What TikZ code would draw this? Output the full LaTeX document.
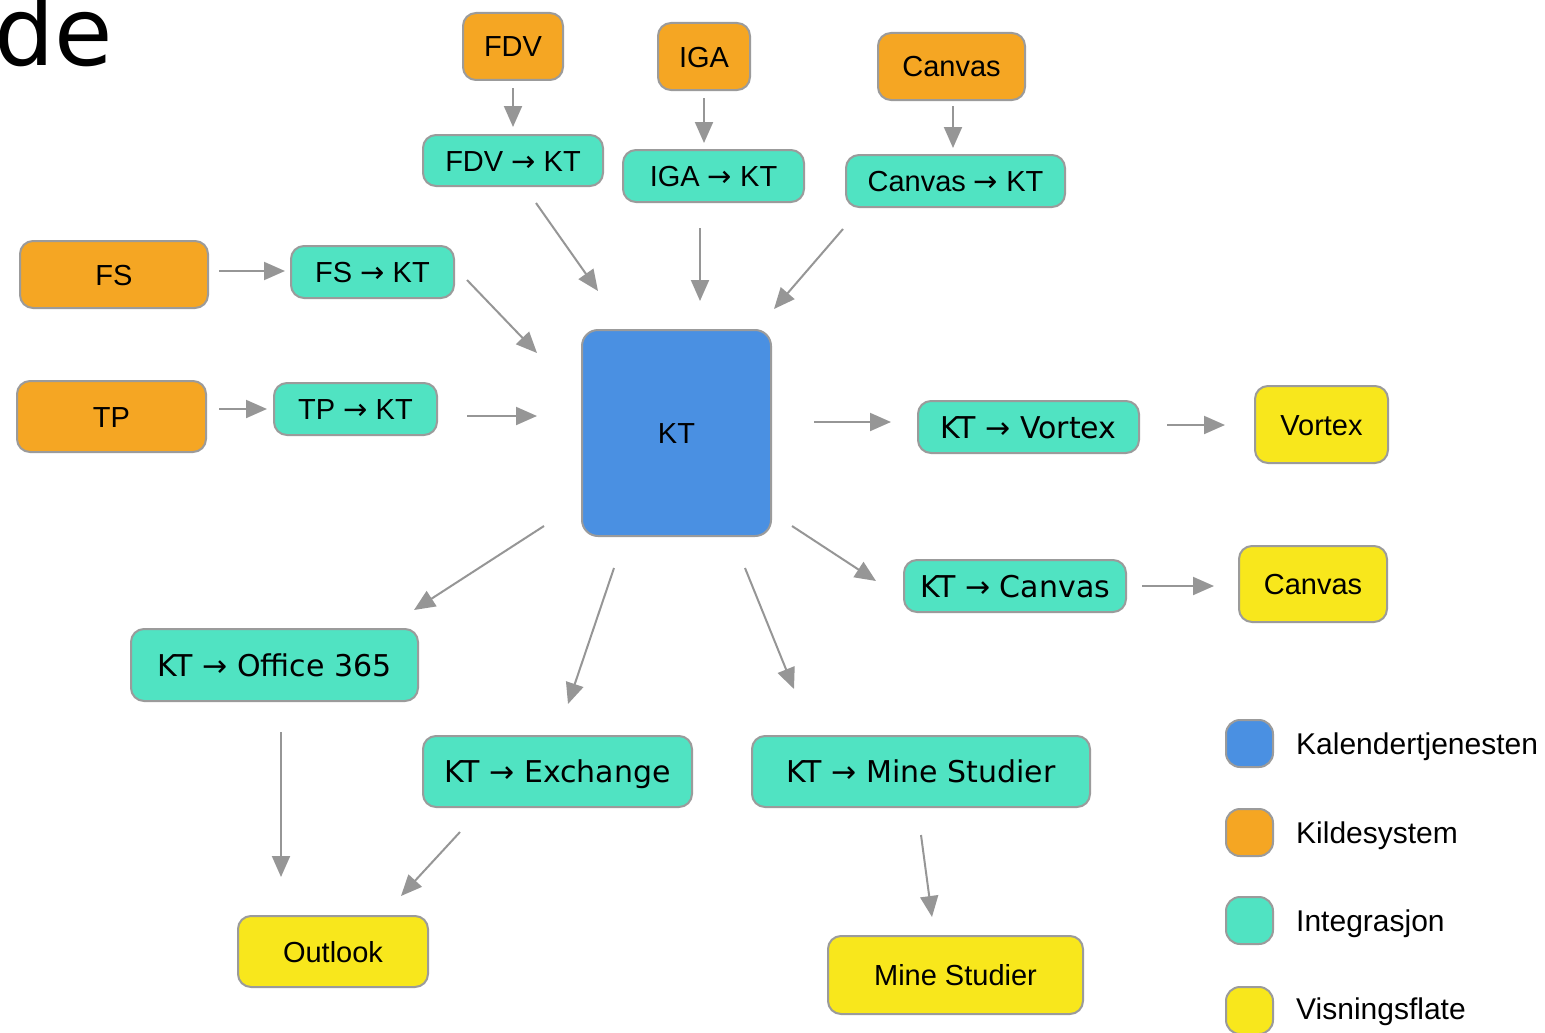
\documentclass[tikz,border=0pt]{standalone}
\usepackage{fontspec}
\setmainfont{Liberation Sans}
\newfontfamily\dejavu{DejaVu Sans}
\newcommand\myra{{\dejavu →}}
\usetikzlibrary{arrows.meta,calc}
\definecolor{corange}{RGB}{245,166,35}
\definecolor{cteal}{RGB}{80,227,194}
\definecolor{cblue}{RGB}{74,144,226}
\definecolor{cyellow}{RGB}{248,231,28}
\definecolor{cborder}{RGB}{155,155,155}
\definecolor{carrow}{RGB}{150,150,150}
\begin{document}
\begin{tikzpicture}[x=1pt,y=-1pt,
  box/.style={draw=cborder, line width=2pt, rounded corners=13pt, inner sep=0pt,
    text height=21pt, text depth=0pt, font=\fontsize{29}{34}\selectfont, text=black},
  src/.style={box, fill=corange},
  integ/.style={box, fill=cteal},
  integd/.style={integ, font=\dejavu\fontsize{30}{36}\selectfont, text height=22pt},
  view/.style={box, fill=cyellow},
  core/.style={box, fill=cblue, rounded corners=16pt},
  legsq/.style={draw=cborder, line width=2pt, rounded corners=14pt, minimum width=47pt, minimum height=47pt, inner sep=0pt},
  legtxt/.style={anchor=west, inner sep=0pt, text height=21pt, text depth=0pt, font=\fontsize{30}{36}\selectfont},
  arr/.style={draw=carrow, line width=2pt, -{Triangle[length=21pt,width=18pt]}, fill=carrow}
]
\useasboundingbox (0,0) rectangle (1545,1033);
\clip (0,0) rectangle (1545,1033);

% partial title
\node[anchor=base east, inner sep=0pt, font=\dejavu\fontsize{95}{100}\selectfont] (title) at (113,66) {de};

% source systems
\node[src, minimum width=100pt, minimum height=67pt] (fdv) at (513,46.5) {FDV};
\node[src, minimum width=92pt, minimum height=67pt] (iga) at (704,56.5) {IGA};
\node[src, minimum width=147pt, minimum height=67pt] (cvs) at (951.5,66.5) {Canvas};
\node[src, minimum width=188pt, minimum height=67pt] (fs) at (114,274.5) {FS};
\node[src, minimum width=189pt, minimum height=71pt] (tp) at (111.5,416.5) {TP};

% inbound integrations
\node[integ, minimum width=180pt, minimum height=51pt] (fdvkt) at (513,160.5) {FDV \myra{} KT};
\node[integ, minimum width=181pt, minimum height=52pt] (igakt) at (713.5,176) {IGA \myra{} KT};
\node[integ, minimum width=219pt, minimum height=52pt] (cvskt) at (955.5,181) {Canvas \myra{} KT};
\node[integ, minimum width=163pt, minimum height=52pt] (fskt) at (372.5,272) {FS \myra{} KT};
\node[integ, minimum width=163pt, minimum height=52pt] (tpkt) at (355.5,409) {TP \myra{} KT};

% core
\node[core, minimum width=189pt, minimum height=206pt] (kt) at (676.5,433) {KT};

% outbound integrations
\node[integd, minimum width=221pt, minimum height=52pt] (ktvx) at (1028.5,427) {KT → Vortex};
\node[integd, minimum width=222pt, minimum height=52pt] (ktcvs) at (1015,586) {KT → Canvas};
\node[integd, minimum width=287pt, minimum height=72pt] (o365) at (274.5,665) {KT → Office 365};
\node[integd, minimum width=269pt, minimum height=71pt] (exch) at (557.5,771.5) {KT → Exchange};
\node[integd, minimum width=338pt, minimum height=71pt] (mine) at (921,771.5) {KT → Mine Studier};

% views
\node[view, minimum width=133pt, minimum height=77pt] (vortex) at (1321.5,424.5) {Vortex};
\node[view, minimum width=148pt, minimum height=76pt] (cvsv) at (1313,584) {Canvas};
\node[view, minimum width=190pt, minimum height=71pt] (outlook) at (333,951.5) {Outlook};
\node[view, minimum width=255pt, minimum height=78pt] (minev) at (955.5,975) {Mine Studier};

% arrows
\draw[arr] ($(fdv.south)+(0,7)$) -- ($(fdvkt.north)+(0,-7)$);
\draw[arr] ($(iga.south)+(0,7)$) -- ($(iga.south |- igakt.north)+(0,-6)$);
\draw[arr] ($(cvs.south)+(1.5,5)$) -- ($(cvs.south |- cvskt.north)+(1.5,-6)$);
\draw[arr] ($(fdvkt.south)+(23,16)$) -- ($(kt.north west)+(17,-38)$);
\draw[arr] ($(igakt.south)+(-13.5,25)$) -- ($(kt.north)+(23.5,-28)$);
\draw[arr] ($(cvskt.south west)+(-2,21)$) -- ($(kt.north east)+(2,-20)$);
\draw[arr] ($(fs.east |- fskt.west)+(10,-1)$) -- ($(fskt.west)+(-5,-1)$);
\draw[arr] ($(fskt.east)+(12,8)$) -- ($(kt.north west)+(-44,24)$);
\draw[arr] ($(tp.east |- tpkt.west)+(12,0)$) -- ($(tpkt.west)+(-6,0)$);
\draw[arr] ($(tpkt.east)+(29,7)$) -- ($(tpkt.east -| kt.west)+(-44,7)$);
\draw[arr] ($(kt.east |- ktvx.west)+(42,-5)$) -- ($(ktvx.west)+(-26,-5)$);
\draw[arr] ($(vortex.west -| ktvx.east)+(27,0.5)$) -- ($(vortex.west)+(-29,0.5)$);
\draw[arr] ($(kt.south east)+(20,-11)$) -- ($(ktcvs.west)+(-27,-5)$);
\draw[arr] ($(ktcvs.east)+(15,0)$) -- ($(ktcvs.east -| cvsv.west)+(-24,0)$);
\draw[arr] ($(kt.south west)+(-37,-11)$) -- ($(o365.north east)+(-5,-18)$);
\draw[arr] ($(kt.south)+(-62.5,31)$) -- ($(exch.north)+(10.5,-31)$);
\draw[arr] ($(kt.south)+(68.5,31)$) -- ($(mine.north west)+(43,-46)$);
\draw[arr] ($(o365.south)+(6.5,30)$) -- ($(o365.south |- outlook.north)+(6.5,-38)$);
\draw[arr] ($(exch.south west)+(38,24)$) -- ($(outlook.north east)+(-28,-19)$);
\draw[arr] ($(mine.south)+(0,27)$) -- ($(minev.north)+(-23.5,-18)$);

% legend
\node[legsq, fill=cblue] (l1) at (1249.5,743.5) {};
\node[legsq, fill=corange] (l2) at (1249.5,832.5) {};
\node[legsq, fill=cteal] (l3) at (1249.5,920.5) {};
\node[legsq, fill=cyellow] (l4) at (1249.5,1010.5) {};
\node[legtxt] (t1) at (1296,744) {Kalendertjenesten};
\node[legtxt] (t2) at (1296,832.5) {Kildesystem};
\node[legtxt] (t3) at (1296,920.5) {Integrasjon};
\node[legtxt] (t4) at (1296,1009) {Visningsflate};
\end{tikzpicture}
\end{document}
